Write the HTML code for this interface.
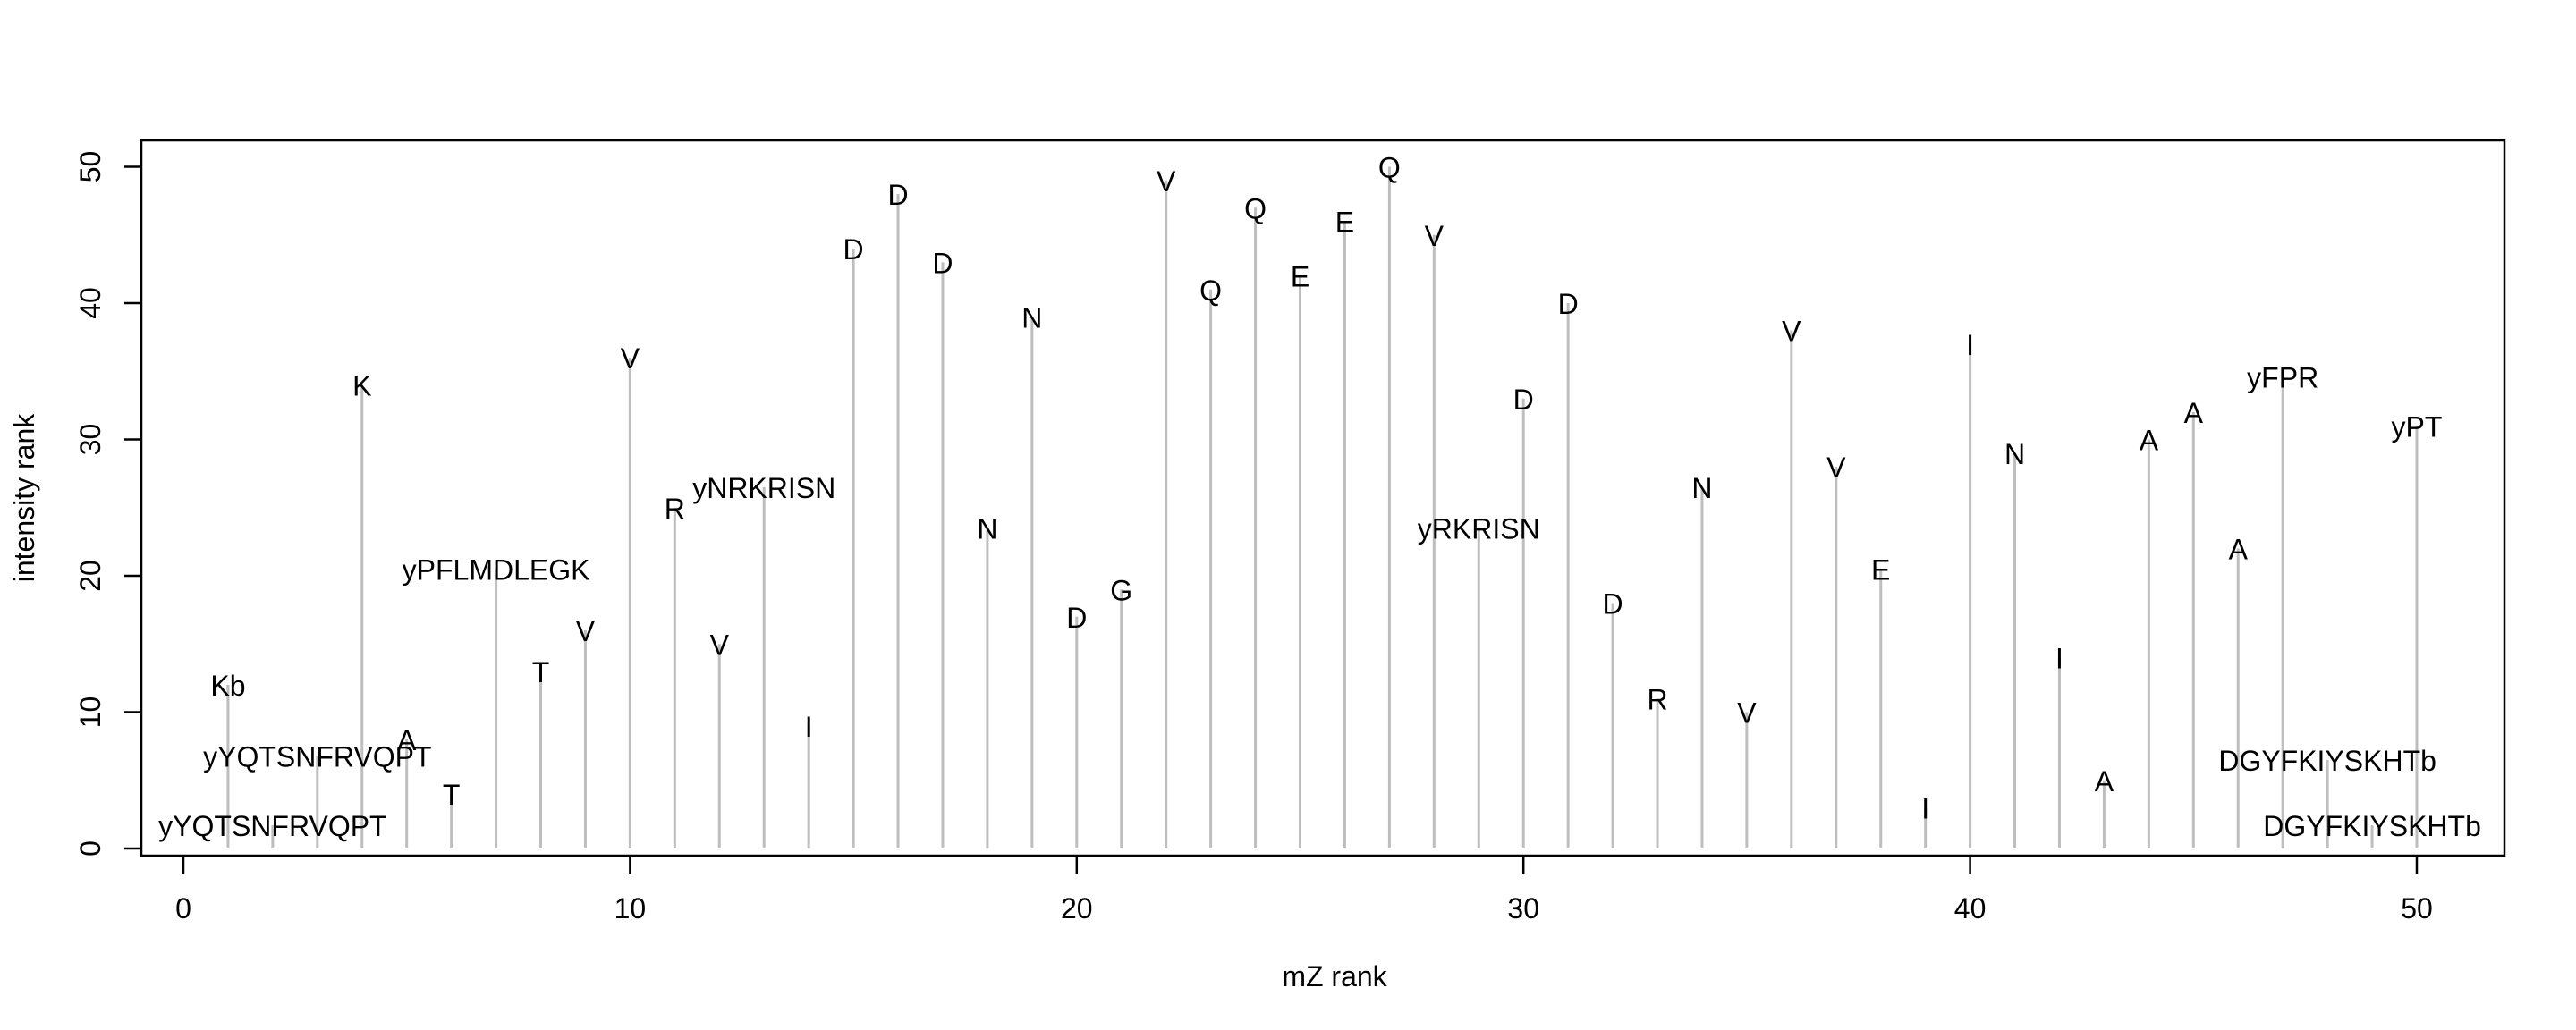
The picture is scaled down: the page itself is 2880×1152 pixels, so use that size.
<!DOCTYPE html>
<html><head><meta charset="utf-8"><title>intensity vs mZ rank</title>
<style>html,body{margin:0;padding:0;background:#fff}svg{display:block}text{font-family:"Liberation Sans",Arial,sans-serif;fill:#000}</style>
</head><body>
<svg id="chart" width="2880" height="1152" viewBox="0 0 2880 1152" xmlns="http://www.w3.org/2000/svg">
<g id="stems"></g>
<g id="labels"></g>
<rect x="158" y="157" width="2642" height="800" fill="none" stroke="#000" stroke-width="2.5"/>
<g id="xaxis"></g>
<g id="yaxis"></g>
<text x="1492" y="1114" font-size="32" text-anchor="middle" dy="-11">mZ rank</text>
<text transform="translate(38,557) rotate(-90)" font-size="32" text-anchor="middle">intensity rank</text>
</svg>
<script>
const mzRank = [1,2,3,4,5,6,7,8,9,10,11,12,13,14,15,16,17,18,19,20,21,22,23,24,25,26,27,28,29,30,31,32,33,34,35,36,37,38,39,40,41,42,43,44,45,46,47,48,49,50];
const intensityRank = [12,1.7,6.8,34,8,4,20.5,13,16,36,25,15,26.5,9,44,48,43,23.5,39,17,19,49,41,47,42,46,50,45,23.5,33,40,18,11,26.5,10,38,28,20.5,3,37,29,14,5,30,32,22,34.6,6.5,1.7,31];
const peakLabels = ["Kb","yYQTSNFRVQPT","yYQTSNFRVQPT","K","A","T","yPFLMDLEGK","T","V","V","R","V","yNRKRISN","I","D","D","D","N","N","D","G","V","Q","Q","E","E","Q","V","yRKRISN","D","D","D","R","N","V","V","V","E","I","I","N","I","A","A","A","A","yFPR","DGYFKIYSKHTb","DGYFKIYSKHTb","yPT"];
const xTicks = [0,10,20,30,40,50];
const yTicks = [0,10,20,30,40,50];

const NS = "http://www.w3.org/2000/svg";
const xs = v => 205 + v * 49.94;
const ys = v => 949 - v * 15.25;
function mk(tag, attrs, parent) {
  const e = document.createElementNS(NS, tag);
  for (const k in attrs) e.setAttribute(k, attrs[k]);
  parent.appendChild(e);
  return e;
}
const gS = document.getElementById('stems'), gL = document.getElementById('labels');
mzRank.forEach((m, i) => {
  const l = mk('line', {x1: xs(m), x2: xs(m), y1: ys(0), y2: ys(intensityRank[i]), stroke: '#bebebe', 'stroke-width': 3}, gS);
  
  
  const t = mk('text', {x: xs(m), y: ys(intensityRank[i]) + 12, 'font-size': 32, 'text-anchor': 'middle'}, gL);
  t.textContent = peakLabels[i];
  
  
});
const gx = document.getElementById('xaxis'), gy = document.getElementById('yaxis');
xTicks.forEach(v => {
  const l = mk('line', {x1: xs(v), x2: xs(v), y1: 957, y2: 977, stroke: '#000', 'stroke-width': 2.5}, gx);
  
  
  const t = mk('text', {x: xs(v), y: 1027, 'font-size': 32, 'text-anchor': 'middle'}, gx);
  t.textContent = v;
  
  
});
yTicks.forEach(v => {
  const l = mk('line', {x1: 139, x2: 158, y1: ys(v), y2: ys(v), stroke: '#000', 'stroke-width': 2.5}, gy);
  
  
  const t = mk('text', {'font-size': 32, 'text-anchor': 'middle', transform: 'translate(112,' + ys(v) + ') rotate(-90)'}, gy);
  t.textContent = v;
  
  
});
</script>
</body></html>
